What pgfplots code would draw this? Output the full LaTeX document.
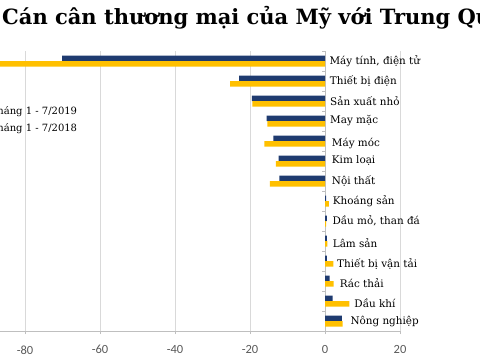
\documentclass[border=0pt]{standalone}
\usepackage{fontspec}
\setmainfont{DejaVu Serif}
\newfontfamily\carlito{Carlito}
\usepackage{pgfplots}
\pgfplotsset{compat=1.18}
\definecolor{cblue}{HTML}{1F3B70}
\definecolor{cyellow}{HTML}{FFC000}
\definecolor{gridc}{HTML}{D9D9D9}
\definecolor{axc}{HTML}{BFBFBF}
\definecolor{tickc}{HTML}{595959}
\begin{document}
\begin{tikzpicture}
\useasboundingbox (50pt,-29pt) rectangle (530pt,331pt);
\clip (50pt,-29pt) rectangle (530pt,331pt);
\begin{axis}[
  at={(0pt,0pt)}, anchor=south west,
  scale only axis, width=450pt, height=280pt,
  xmin=-100, xmax=20, ymin=0.5, ymax=14.5,
  xbar, bar width=5.5pt,
  axis x line*=bottom,
  axis y line=middle,
  every inner y axis line/.append style={-},
  every outer x axis line/.append style={-},
  x axis line style={axc, line width=0.8pt},
  y axis line style={axc, line width=0.8pt},
  xtick={-80,-60,-40,-20,0,20},
  xmajorgrids, grid style={gridc, line width=0.8pt},
  ytick={0.5,1.5,...,14.5}, yticklabels={},
  tick align=outside, major tick length=3pt,
  tick style={axc, line width=0.6pt},
  /pgf/number format/assume math mode=true,
  xticklabel style={font=\carlito\fontsize{12.5}{13}\selectfont, text=tickc, yshift=-8pt},
  legend style={at={(0.294,0.754)}, anchor=east, draw=none, fill=none,
    font=\fontsize{10}{11}\selectfont, row sep=3pt},
  legend cell align=left,
  clip=false,
]
\addplot[fill=cblue, draw=none, bar shift=2.75pt] coordinates {
(4.5,1) (2.0,2) (1.2,3) (0.5,4) (0.5,5) (0.5,6) (0.3,7) (-12.2,8) (-12.4,9) (-13.8,10) (-15.6,11) (-19.5,12) (-22.9,13) (-70.1,14)};
\addplot[fill=cyellow, draw=none, bar shift=-2.75pt] coordinates {
(4.7,1) (6.5,2) (2.3,3) (2.2,4) (0.6,5) (0.3,6) (1.0,7) (-14.7,8) (-13.1,9) (-16.2,10) (-15.4,11) (-19.4,12) (-25.3,13) (-95,14)};
\legend{Tháng 1 - 7/2019, Tháng 1 - 7/2018}
\begin{scope}[every node/.style={anchor=west, inner sep=0pt, font=\fontsize{10.4}{11}\selectfont, text=black}]
\node at (axis cs:1.15,14) {Máy tính, điện tử};
\node at (axis cs:1.25,13) {Thiết bị điện};
\node at (axis cs:1.33,12) {Sản xuất nhỏ};
\node at (axis cs:1.33,11) {May mặc};
\node at (axis cs:1.8,9.9) {Máy móc};
\node at (axis cs:1.8,9) {Kim loại};
\node at (axis cs:1.8,8) {Nội thất};
\node at (axis cs:2.05,7) {Khoáng sản};
\node at (axis cs:1.95,6) {Dầu mỏ, than đá};
\node at (axis cs:2.05,4.9) {Lâm sản};
\node at (axis cs:3.2,3.85) {Thiết bị vận tải};
\node at (axis cs:3.9,2.9) {Rác thải};
\node at (axis cs:7.8,1.9) {Dầu khí};
\node at (axis cs:6.75,1) {Nông nghiệp};
\end{scope}
\end{axis}
\node[anchor=base west, inner sep=0pt, font=\fontsize{21}{22}\selectfont\bfseries] at (52pt,307pt) {Cán cân thương mại của Mỹ với Trung Quốc};
\end{tikzpicture}
\end{document}
